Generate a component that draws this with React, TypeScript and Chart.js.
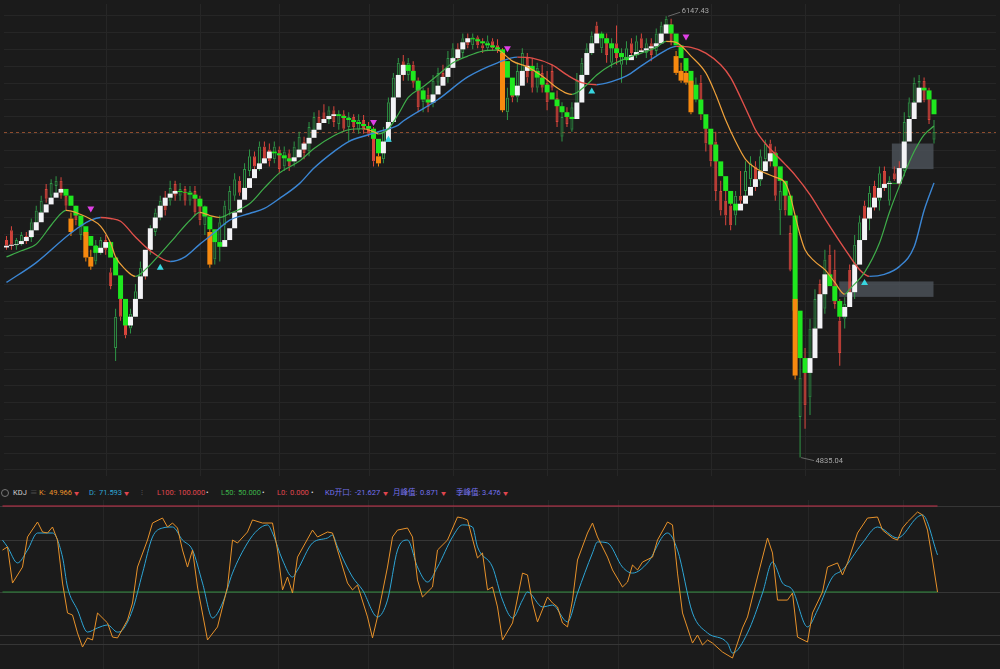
import React, { useEffect, useRef } from 'react';
import { Chart, registerables } from 'chart.js';
Chart.register(...registerables);

// ---------------- DATA ----------------
// daily candles [open, high, low, close], index = trading day
const ohlc: number[][] = [
  [5482,5494,5453,5465],[5511,5523,5453,5468],[5465,5488,5453,5482],[5476,5506,5465,5497],[5494,5506,5470,5482],
  [5488,5546,5476,5535],[5526,5584,5511,5570],[5564,5614,5546,5599],[5634,5649,5593,5605],[5614,5663,5605,5652],
  [5643,5672,5623,5658],[5658,5669,5605,5614],[5614,5628,5570,5584],[5546,5564,5494,5506],[5570,5584,5526,5541],
  [5497,5541,5482,5526],[5506,5517,5418,5430],[5432,5453,5394,5403],[5418,5482,5409,5468],[5453,5491,5438,5482],
  [5482,5497,5438,5453],[5386,5400,5336,5345],[5161,5278,5122,5254],[5307,5336,5242,5254],[5248,5263,5190,5199],
  [5219,5278,5204,5263],[5272,5351,5254,5330],[5336,5418,5321,5400],[5418,5438,5365,5377],[5453,5526,5438,5511],
  [5506,5576,5494,5564],[5555,5614,5541,5599],[5605,5628,5555,5570],[5599,5658,5585,5637],[5649,5658,5599,5614],
  [5614,5652,5599,5634],[5634,5643,5585,5599],[5599,5643,5585,5628],[5628,5643,5555,5564],[5585,5614,5526,5541],
  [5526,5585,5497,5570],[5506,5526,5400,5409],[5424,5511,5409,5482],[5468,5555,5418,5535],[5526,5599,5482,5585],
  [5570,5643,5555,5628],[5614,5681,5599,5663],[5658,5672,5614,5623],[5628,5710,5614,5693],[5687,5751,5672,5731],
  [5731,5745,5687,5701],[5701,5775,5687,5760],[5760,5775,5710,5722],[5751,5769,5701,5716],[5722,5775,5710,5760],
  [5751,5760,5681,5693],[5701,5760,5687,5745],[5740,5751,5687,5701],[5716,5775,5701,5760],[5745,5804,5731,5789],
  [5775,5789,5722,5740],[5745,5833,5731,5818],[5810,5862,5798,5848],[5848,5868,5813,5827],[5862,5886,5833,5839],
  [5839,5880,5827,5868],[5868,5880,5818,5833],[5827,5868,5810,5856],[5856,5868,5804,5813],[5818,5862,5775,5848],
  [5848,5856,5804,5818],[5810,5856,5798,5839],[5839,5854,5798,5810],[5818,5833,5789,5798],[5804,5818,5701,5716],
  [5731,5745,5701,5710],[5722,5818,5710,5804],[5804,5906,5789,5892],[5892,5979,5877,5965],[5956,6023,5935,6009],
  [6014,6032,5956,5973],[5973,6023,5956,6009],[6003,6014,5935,5950],[5950,5965,5862,5877],[5892,5935,5862,5921],
  [5915,5935,5862,5877],[5892,5973,5877,5956],[5950,5994,5935,5979],[5979,6003,5944,5956],[5965,6044,5950,6023],
  [6023,6067,6003,6052],[6052,6067,6014,6023],[6038,6096,6023,6082],[6082,6096,6052,6061],[6061,6096,6049,6085],
  [6085,6090,6052,6061],[6061,6082,6038,6052],[6052,6090,6044,6073],[6073,6082,6044,6052],[6061,6079,6038,6047],
  [6038,6052,5862,5868],[5862,5935,5839,5906],[5921,5950,5892,5906],[5906,6009,5892,5985],[5979,6052,5965,6038],
  [6023,6038,5950,5965],[5994,6023,5921,5935],[5935,6009,5921,5994],[5979,6003,5921,5935],[5950,5985,5868,5892],
  [5985,6003,5927,5935],[5906,5927,5818,5833],[5789,5892,5775,5848],[5862,5877,5818,5827],[5810,5892,5804,5877],
  [5877,5979,5856,5956],[5950,6023,5927,6009],[6009,6067,5985,6052],[6044,6102,6032,6090],[6120,6131,6073,6085],
  [6052,6102,6038,6090],[6082,6096,6009,6032],[6009,6082,5994,6061],[6067,6120,6003,6023],[6003,6052,5950,6038],
  [6023,6073,6003,6052],[6067,6082,6023,6038],[6032,6090,6023,6073],[6082,6096,6044,6052],[6038,6082,6023,6067],
  [6067,6082,6014,6032],[6044,6111,6032,6096],[6090,6131,6079,6120],[6120,6147.43,6108,6140],[6125,6140,6061,6073],
  [6029,6044,5973,5979],[5985,6009,5950,5956],[5979,5994,5944,5950],[5956,5973,5856,5862],[5906,5965,5892,5944],
  [5950,5973,5839,5856],[5833,5848,5745,5769],[5789,5810,5701,5716],[5775,5804,5599,5628],[5628,5658,5555,5570],
  [5599,5643,5526,5555],[5585,5614,5511,5526],[5555,5628,5526,5614],[5614,5687,5585,5599],[5628,5716,5614,5687],
  [5663,5731,5643,5710],[5701,5716,5628,5643],[5658,5751,5643,5731],[5722,5780,5701,5769],[5769,5780,5701,5716],
  [5745,5760,5599,5614],[5570,5658,5497,5628],[5643,5658,5555,5570],[5503,5526,5389,5394],[5307,5394,5067,5079],
  [4956,5131,4835.04,5073],[5131,5161,4921,4991],[5014,5248,4962,5219],[5219,5336,5190,5307],[5351,5365,5248,5263],
  [5278,5453,5263,5424],[5438,5468,5351,5365],[5394,5453,5278,5292],[5242,5307,5108,5146],[5248,5312,5219,5292],
  [5394,5409,5307,5321],[5336,5497,5307,5468],[5468,5555,5438,5535],[5585,5599,5526,5541],[5555,5643,5511,5623],
  [5643,5658,5570,5585],[5599,5701,5570,5681],[5687,5701,5628,5643],[5599,5672,5585,5658],[5681,5701,5658,5663],
  [5693,5716,5643,5658],[5687,5862,5672,5833],[5848,5906,5833,5892],[5892,5965,5877,5950],[5950,5973,5921,5956],
  [5956,5965,5892,5897],[5906,5935,5827,5839],[5780,5839,5769,5804],
];

// days whose candle is highlighted orange
const orangeDays = [13, 16, 17, 41, 75, 100, 135, 136, 137, 138, 159];

// trend-step levels (first entry = level before day 0)
const brickLevels = [
  5460,
  5465,5468,5470,5479,5491,5511,5535,5564,5588,5608,
  5623,5634,5614,5584,5555,5523,5494,5465,5444,5459,
  5476,5430,5377,5307,5228,5254,5307,5374,5453,5517,
  5549,5584,5608,5620,5628,5625,5623,5617,5605,5582,
  5552,5514,5476,5462,5482,5517,5564,5602,5637,5666,
  5693,5710,5725,5745,5740,5734,5725,5716,5728,5751,
  5769,5786,5810,5830,5842,5851,5856,5851,5845,5839,
  5833,5827,5821,5813,5783,5740,5775,5833,5906,5973,
  6003,5985,5956,5927,5900,5891,5915,5941,5967,5994,
  6023,6049,6070,6082,6079,6073,6067,6061,6055,6049,
  6014,5965,5912,5941,5985,6000,5985,5965,5944,5921,
  5900,5880,5862,5848,5842,5891,5973,6038,6067,6096,
  6082,6067,6052,6038,6026,6017,6032,6041,6046,6052,
  6058,6067,6096,6123,6096,6061,6023,5985,5944,5900,
  5856,5813,5766,5716,5672,5628,5590,5570,5590,5614,
  5640,5663,5687,5716,5740,5701,5658,5614,5555,5272,
  5131,5087,5131,5219,5321,5380,5345,5301,5254,5283,
  5327,5409,5482,5546,5579,5608,5637,5649,5652,5650,
  5696,5775,5842,5891,5935,5927,5900,5856,
];

// moving averages [day, value]
const fastMA = [
  [0,5432],[3,5450],[6,5470],[9,5526],[11,5561],[12,5570],[15,5558],[17,5544],[19,5523],[21,5473],
  [22,5432],[24,5394],[26,5374],[28,5394],[31,5441],[34,5491],[37,5541],[39,5564],[41,5555],[43,5549],
  [45,5561],[49,5590],[52,5637],[55,5681],[59,5716],[62,5754],[66,5792],[69,5810],[72,5813],[74,5804],
  [75,5798],[77,5813],[79,5856],[81,5906],[84,5938],[87,5973],[90,6009],[93,6029],[96,6044],[99,6047],
  [101,6026],[102,6014],[105,5997],[108,5970],[111,5935],[113,5918],[114,5915],[117,5944],[119,5973],[122,6003],
  [125,6023],[128,6038],[131,6055],[133,6073],[135,6070],[138,6029],[141,5979],[143,5915],[145,5839],[147,5775],
  [149,5722],[151,5696],[153,5681],[155,5669],[157,5652],[158,5614],[159,5555],[160,5497],[161,5453],[163,5418],
  [165,5394],[167,5356],[169,5321],[170,5336],[173,5386],[176,5473],[178,5564],[181,5678],[183,5745],[185,5795],
  [187,5821],
];
const slowMA = [
  [0,5356],[6,5415],[13,5503],[17,5541],[19,5549],[21,5546],[23,5538],[26,5491],[29,5450],[33,5418],
  [36,5432],[39,5470],[42,5505],[45,5541],[49,5561],[52,5576],[55,5605],[59,5649],[62,5696],[66,5745],
  [69,5775],[73,5795],[75,5804],[79,5824],[80,5836],[87,5900],[93,5967],[99,6009],[103,6026],[106,6023],
  [110,6003],[113,5973],[116,5950],[119,5944],[122,5953],[125,5970],[128,6000],[131,6029],[133,6047],[135,6058],
  [138,6055],[141,6038],[144,6003],[146,5965],[148,5906],[150,5842],[151,5810],[153,5769],[155,5737],[157,5707],
  [159,5675],[162,5617],[165,5546],[169,5456],[172,5394],[174,5374],[177,5380],[180,5403],[183,5462],[185,5570],
  [187,5652],
];

const buySignals = [[31,5400],[77,5780],[118,5924],[173,5354]];
const sellSignals = [[17,5576],[74,5833],[101,6052],[137,6087]];
// [fromDay, toDay, upper price, lower price]
const zoneBoxes = [[178.5,186.9,5769,5693],[167.9,186.9,5359,5313]];
const lastPrice = 5804;
const highValue = 6147.43;
const lowValue = 4835.04;

// KDJ [day, value]
const kLine = [
  [0,74.4],[1,76.2],[2,55.2],[4,64.5],[5,82],[7,90.7],[8,84.9],[9,84.3],[10,87.8],[11,80.2],
  [12,55.2],[13,37.8],[14,36.6],[15,26.2],[16,18],[17,23.3],[18,22.1],[19,37.8],[21,32],[22,23.8],
  [23,23.3],[25,33.7],[26,43.6],[27,64.5],[29,80.2],[30,90.1],[32,93],[33,87.8],[34,90.1],[35,87.2],
  [36,74.4],[37,64.5],[38,74.4],[39,52.9],[41,22.1],[43,29.7],[45,52.9],[46,80.2],[47,78.5],[49,84.9],
  [50,91.9],[52,90.1],[54,90.1],[55,74.4],[56,51.2],[57,58.7],[58,49.4],[59,70.3],[62,86],[63,82],
  [65,84.9],[66,84.3],[67,74.4],[69,55.2],[70,51.2],[71,54.1],[73,35.5],[74,23.3],[75,35.5],[77,64.5],
  [78,82],[79,86],[81,87.2],[82,82],[83,57],[84,47.1],[86,52.9],[87,74.4],[89,80.2],[91,93.6],
  [92,93],[93,91.9],[95,69.8],[96,72.7],[97,51.2],[98,52.9],[99,41.3],[100,22.1],[102,32],[104,61],
  [105,59.9],[106,43.6],[107,32.6],[109,47.1],[110,43.6],[111,41.3],[112,32],[113,29.7],[114,45.3],[115,68.6],
  [117,84.3],[118,90.1],[119,82],[121,70.3],[122,62.8],[124,52.9],[125,55.8],[126,65.7],[127,62.8],[128,67.4],
  [130,70.3],[131,80.2],[133,90.7],[134,89],[135,61],[136,37.8],[138,20.3],[139,25],[140,19.2],[141,22.1],
  [142,20.3],[144,15.1],[146,11.6],[148,29.1],[149,35.5],[151,58.7],[153,81.4],[154,72.7],[155,45.3],[157,45.3],
  [158,49.4],[159,23.8],[161,20.9],[162,37.8],[164,50],[165,64.5],[167,66.9],[168,59.9],[169,66.9],[171,84.3],
  [173,93],[175,93.6],[176,86],[178,81.4],[179,80.2],[180,87.2],[181,90.7],[183,96.5],[184,94.8],[185,86],
  [186,68.6],[187,49.966],
];
const dLine = [
  [0,80.2],[1,76.2],[3,66.9],[5,74.4],[7,84.3],[9,84.3],[10,84.3],[12,70.3],[13,52.9],[15,39.5],
  [17,26.7],[19,29.1],[21,30.8],[23,26.7],[24,27.9],[26,39.5],[28,61],[30,82],[32,87.2],[34,87.8],
  [36,80.2],[38,74.4],[40,55.2],[42,34.9],[44,43.6],[46,61],[49,78.5],[51,86],[53,89],[54,84.3],
  [56,68.6],[58,58.7],[59,62.8],[62,78.5],[65,81.4],[66,83.1],[67,76.2],[70,58.7],[72,51.2],[75,35.5],
  [77,45.3],[79,74.4],[81,80.2],[83,64.5],[85,55.8],[87,64.5],[90,82],[92,89],[94,87.8],[95,76.2],
  [98,64.5],[100,45.3],[102,34.9],[104,45.3],[105,50],[108,41.3],[110,42.4],[113,32.6],[115,49.4],[118,72.7],
  [119,79.1],[121,78.5],[124,64.5],[126,61],[129,66.9],[133,84.3],[135,74.4],[138,37.8],[141,26.2],[145,20.3],
  [146,14.5],[149,26.2],[152,49.4],[154,67.4],[156,55.2],[158,51.2],[161,29.7],[163,39.5],[166,58.7],[168,62.8],
  [172,78.5],[175,87.8],[179,81.4],[183,93.6],[184,94.8],[187,71.593],
];
const L100 = 100, L50 = 50, L0 = 0;
const kValue = '49.966', dValue = '71.593', kdGap = '-21.627', monthPeak = '0.871', quarterPeak = '3.476';

const monthStarts = [20, 39, 55, 73, 90, 109, 123, 142, 161, 180];
const priceGridStep = 50;
const kdjGridLevels = [100, 80, 50, 25, 20];

// ---------------- STYLE ----------------
const BG = '#1b1b1b';
const GRID = '#262626';
const UP_C = '#2f9646';
const DN_C = '#dc463d';
const ORANGE = '#f7890f';
const BRICK_UP = '#f3f3f6';
const BRICK_DN = '#1fe81f';
const FAST_UP = '#3fae4a', FAST_DN = '#f0a23a';
const SLOW_UP = '#3b86d4', SLOW_DN = '#e0504a';
const K_COL = '#e8922a', D_COL = '#2ea6d6';
const PURPLE = '#7472ee';
const REDTXT = '#e0464e';
const FONT = 'Roboto, "Noto Sans", "Noto Sans CJK SC", sans-serif';

const lastDay = ohlc.length - 1;

const mainDecor = {
  id: 'mainDecor',
  beforeDatasetsDraw(chart: any) {
    const { ctx, chartArea: a, scales } = chart;
    const x = scales.x, y = scales.y;
    ctx.save();
    ctx.lineWidth = 1;
    ctx.strokeStyle = GRID;
    ctx.beginPath();
    for (let p = Math.ceil(y.min / priceGridStep) * priceGridStep; p <= y.max; p += priceGridStep) {
      const py = Math.round(y.getPixelForValue(p)) + 0.5;
      ctx.moveTo(a.left, py); ctx.lineTo(a.right, py);
    }
    monthStarts.forEach((d) => {
      const px = Math.round(x.getPixelForValue(d)) + 0.5;
      ctx.moveTo(px, a.top); ctx.lineTo(px, a.bottom);
    });
    ctx.stroke();
    ctx.fillStyle = 'rgba(78,84,92,0.78)';
    zoneBoxes.forEach(([d0, d1, top, bot]) => {
      const x0 = x.getPixelForValue(d0), x1 = x.getPixelForValue(d1);
      const y0 = y.getPixelForValue(top), y1 = y.getPixelForValue(bot);
      ctx.fillRect(x0, y0, x1 - x0, y1 - y0);
    });
    ctx.setLineDash([3, 3]);
    ctx.strokeStyle = '#8d4c2e';
    const ly = Math.round(y.getPixelForValue(lastPrice)) + 0.5;
    ctx.beginPath(); ctx.moveTo(a.left, ly); ctx.lineTo(a.right, ly); ctx.stroke();
    ctx.restore();
  },
  afterDatasetsDraw(chart: any) {
    const { ctx, scales } = chart;
    const x = scales.x, y = scales.y;
    let hiDay = 0, loDay = 0;
    ohlc.forEach((c, i) => { if (c[1] > ohlc[hiDay][1]) hiDay = i; if (c[2] < ohlc[loDay][2]) loDay = i; });
    ctx.save();
    ctx.font = '7.5px ' + FONT;
    ctx.textBaseline = 'middle';
    ctx.fillStyle = '#a8a8a8';
    ctx.strokeStyle = '#6a6a6a';
    ctx.lineWidth = 1;
    const hx = x.getPixelForValue(hiDay), hy = y.getPixelForValue(highValue);
    ctx.beginPath(); ctx.moveTo(hx + 2, hy); ctx.lineTo(hx + 14, hy - 4); ctx.stroke();
    ctx.fillText(highValue.toFixed(2), hx + 15.5, hy - 5.5);
    const lx = x.getPixelForValue(loDay), lyy = y.getPixelForValue(lowValue);
    ctx.beginPath(); ctx.moveTo(lx + 1, lyy); ctx.lineTo(lx + 14, lyy + 3); ctx.stroke();
    ctx.fillText(lowValue.toFixed(2), lx + 15.5, lyy + 3.7);
    ctx.restore();
  },
};

const kdjDecor = {
  id: 'kdjDecor',
  beforeDatasetsDraw(chart: any) {
    const { ctx, chartArea: a, scales } = chart;
    const x = scales.x, y = scales.y;
    ctx.save();
    ctx.lineWidth = 1;
    ctx.strokeStyle = '#262626';
    ctx.beginPath();
    monthStarts.forEach((d) => {
      const px = Math.round(x.getPixelForValue(d)) + 0.5;
      ctx.moveTo(px, a.top); ctx.lineTo(px, a.bottom);
    });
    ctx.stroke();
    ctx.strokeStyle = '#363636';
    ctx.beginPath();
    kdjGridLevels.forEach((v) => {
      const py = Math.round(y.getPixelForValue(v)) + 0.5;
      ctx.moveTo(a.left, py); ctx.lineTo(a.right, py);
    });
    ctx.stroke();
    ctx.restore();
  },
};

const pts = (arr: number[][]) => arr.map(([d, v]) => ({ x: d, y: v }));
const isOrange = (i: number) => orangeDays.includes(i);
const candleColor = (i: number) => (isOrange(i) ? ORANGE : ohlc[i][3] >= ohlc[i][0] ? UP_C : DN_C);

const xScale = () => ({ type: 'linear', min: -0.5, max: 199.5, display: false, offset: false, grid: { offset: false } });

function buildMain(): any {
  const upperWicks = ohlc.map((c, i) => ({ x: i, y: [Math.max(c[0], c[3]), c[1]] }));
  const lowerWicks = ohlc.map((c, i) => ({ x: i, y: [c[2], Math.min(c[0], c[3])] }));
  const bodies = ohlc.map((c, i) => ({ x: i, y: isOrange(i) ? null : [c[0], c[3]] }));
  const orangeBodies = ohlc.map((c, i) => ({ x: i, y: isOrange(i) ? [c[0], c[3]] : null }));
  const bricks = ohlc.map((_, i) => ({ x: i, y: [brickLevels[i], brickLevels[i + 1]] }));
  const bar = { type: 'bar', grouped: false, inflateAmount: 0, borderSkipped: false };
  return {
    type: 'bar',
    data: {
      datasets: [
        { ...bar, order: 7, data: upperWicks, barThickness: 1, backgroundColor: ohlc.map((_, i) => candleColor(i)), borderWidth: 0 },
        { ...bar, order: 7, data: lowerWicks, barThickness: 1, backgroundColor: ohlc.map((_, i) => candleColor(i)), borderWidth: 0 },
        {
          ...bar, order: 6, data: bodies, barThickness: 3, borderWidth: 1,
          backgroundColor: ohlc.map((c) => (c[3] >= c[0] ? 'rgba(0,0,0,0)' : DN_C)),
          borderColor: ohlc.map((c) => (c[3] >= c[0] ? UP_C : DN_C)),
        },
        {
          ...bar, order: 4, data: bricks, barThickness: 5, borderWidth: 0,
          backgroundColor: ohlc.map((_, i) => (brickLevels[i + 1] >= brickLevels[i] ? BRICK_UP : BRICK_DN)),
        },
        { ...bar, order: 3, data: orangeBodies, barThickness: 5, borderWidth: 0, backgroundColor: ORANGE },
        {
          type: 'line', order: 2, data: pts(slowMA), borderWidth: 1.4, pointRadius: 0,
          cubicInterpolationMode: 'monotone', borderColor: SLOW_UP,
          segment: { borderColor: (c: any) => (c.p1.parsed.y >= c.p0.parsed.y ? SLOW_UP : SLOW_DN) },
        },
        {
          type: 'line', order: 1, data: pts(fastMA), borderWidth: 1.2, pointRadius: 0,
          cubicInterpolationMode: 'monotone', borderColor: FAST_UP,
          segment: { borderColor: (c: any) => (c.p1.parsed.y >= c.p0.parsed.y ? FAST_UP : FAST_DN) },
        },
        {
          type: 'line', order: 0, data: pts(buySignals), showLine: false, pointStyle: 'triangle',
          pointRadius: 4, pointBackgroundColor: '#38d6e0', pointBorderWidth: 0,
        },
        {
          type: 'line', order: 0, data: pts(sellSignals), showLine: false, pointStyle: 'triangle',
          rotation: 180, pointRadius: 4, pointBackgroundColor: '#e040e6', pointBorderWidth: 0,
        },
      ],
    },
    options: {
      responsive: false, animation: false, devicePixelRatio: 1, events: [],
      layout: { padding: 0 },
      plugins: { legend: { display: false }, tooltip: { enabled: false } },
      scales: { x: xScale(), y: { type: 'linear', min: 4780.4, max: 6183.9, display: false } },
    },
    plugins: [mainDecor],
  };
}

function buildKdj(): any {
  const flat = (v: number) => [{ x: 0, y: v }, { x: lastDay, y: v }];
  return {
    type: 'line',
    data: {
      datasets: [
        { data: pts(kLine), borderColor: K_COL, borderWidth: 1, pointRadius: 0, tension: 0 },
        { data: pts(dLine), borderColor: D_COL, borderWidth: 1, pointRadius: 0, cubicInterpolationMode: 'monotone' },
        { data: flat(L100), borderColor: '#c6304a', borderWidth: 1.2, pointRadius: 0 },
        { data: flat(L50), borderColor: '#2e8a3c', borderWidth: 1.2, pointRadius: 0 },
        { data: flat(L0), borderColor: '#c6304a', borderWidth: 1, pointRadius: 0 },
      ],
    },
    options: {
      responsive: false, animation: false, devicePixelRatio: 1, events: [],
      layout: { padding: 0 },
      plugins: { legend: { display: false }, tooltip: { enabled: false } },
      scales: { x: xScale(), y: { type: 'linear', min: 5.23, max: 103.49, display: false } },
    },
    plugins: [kdjDecor],
  };
}

const headerItems: { x: number; t: string; c: string; s?: number }[] = [
  { x: 13, t: 'KDJ', c: '#d2d2d2' },
  { x: 30, t: '≡', c: '#4a4a4a' },
  { x: 39, t: 'K:', c: K_COL },
  { x: 49, t: kValue, c: K_COL },
  { x: 74, t: '▼', c: REDTXT, s: 5 },
  { x: 89, t: 'D:', c: D_COL },
  { x: 99, t: dValue, c: D_COL },
  { x: 124, t: '▼', c: REDTXT, s: 5 },
  { x: 141, t: '⁝', c: '#555555' },
  { x: 157, t: 'L100:', c: REDTXT },
  { x: 178, t: L100.toFixed(3), c: REDTXT },
  { x: 206, t: '•', c: '#dddddd' },
  { x: 221, t: 'L50:', c: '#3cb44a' },
  { x: 238, t: L50.toFixed(3), c: '#3cb44a' },
  { x: 262, t: '•', c: '#dddddd' },
  { x: 277, t: 'L0:', c: REDTXT },
  { x: 290, t: L0.toFixed(3), c: REDTXT },
  { x: 311, t: '•', c: '#dddddd' },
  { x: 325, t: 'KD开口:', c: PURPLE },
  { x: 355, t: kdGap, c: PURPLE },
  { x: 383, t: '▼', c: REDTXT, s: 5 },
  { x: 393, t: '月峰值:', c: PURPLE },
  { x: 420, t: monthPeak, c: PURPLE },
  { x: 441, t: '▼', c: REDTXT, s: 5 },
  { x: 456, t: '季峰值:', c: PURPLE },
  { x: 482, t: quarterPeak, c: PURPLE },
  { x: 503, t: '▼', c: REDTXT, s: 5 },
];

export default function App() {
  const mainRef = useRef<HTMLCanvasElement>(null);
  const kdjRef = useRef<HTMLCanvasElement>(null);
  useEffect(() => {
    document.body.style.margin = '0';
    document.body.style.background = BG;
    const c1 = new Chart(mainRef.current as HTMLCanvasElement, buildMain());
    const c2 = new Chart(kdjRef.current as HTMLCanvasElement, buildKdj());
    return () => { c1.destroy(); c2.destroy(); };
  }, []);
  return (
    <div style={{ position: 'fixed', left: 0, top: 0, width: 1000, height: 669, background: BG, overflow: 'hidden', fontFamily: FONT }}>
      <canvas ref={mainRef} width={1000} height={480} style={{ position: 'absolute', left: 0, top: 0, width: 1000, height: 480 }} />
      <span style={{ position: 'absolute', left: 1, top: 489, width: 6, height: 6, border: '1px solid #777', borderRadius: '50%' }} />
      {headerItems.map((h, i) => (
        <span key={i} style={{ position: 'absolute', left: h.x, top: 487, lineHeight: '12px', fontSize: h.s ?? 7.5, color: h.c, whiteSpace: 'nowrap' }}>{h.t}</span>
      ))}
      <canvas ref={kdjRef} width={1000} height={169} style={{ position: 'absolute', left: 0, top: 500, width: 1000, height: 169 }} />
    </div>
  );
}
